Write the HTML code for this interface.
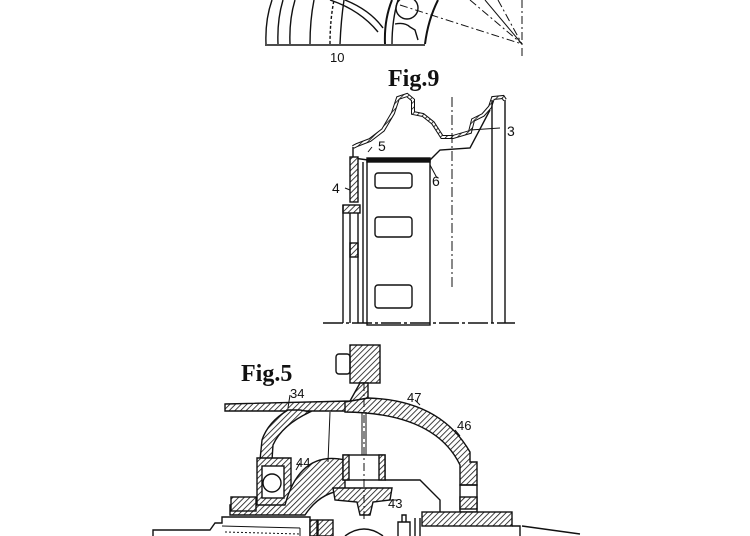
<!DOCTYPE html>
<html><head><meta charset="utf-8"><style>
html,body{margin:0;padding:0;background:#fff}
svg{display:block}
text{font-family:"Liberation Sans",sans-serif;fill:#111}
.f{font-family:"Liberation Serif",serif;font-weight:bold}
</style></head><body>
<svg width="750" height="536" viewBox="0 0 750 536" xmlns="http://www.w3.org/2000/svg">
<defs>
<pattern id="h" width="4" height="4" patternUnits="userSpaceOnUse" patternTransform="rotate(45)">
<rect width="4" height="4" fill="#fff"/><line x1="0" y1="0" x2="0" y2="4" stroke="#111" stroke-width="1.6"/></pattern>
</defs>
<g fill="none" stroke="#111" stroke-width="1.4">
<path d="M265 45 L425 45"/>
<path d="M266 44 Q265 20 272 0"/><path d="M278 44 Q277 20 283 0"/><path d="M290 44 Q289 20 295 0"/>
<path d="M310 44 Q310 20 314 0"/><path d="M330 44 Q330 20 334 0" stroke-dasharray="3 2"/><path d="M340 44 Q341 20 344 0"/>
<path d="M330 0 Q360 10 378 32"/><path d="M345 0 Q370 10 383 28"/>
<path d="M385 44 Q384 20 392 0" stroke-width="2"/><path d="M392 44 Q392 20 398 0"/>
<path d="M425 44 Q428 20 438 0" stroke-width="2"/>
<circle cx="407" cy="8" r="11"/>
<path d="M395 24 Q405 22 410 27 L415 30 L418 40"/>
<g stroke-dasharray="8 3 2 3" stroke-width="1">
<path d="M400 5 L522 44"/><path d="M470 0 L522 44"/><path d="M498 0 L522 44"/><path d="M522 0 L522 56"/>
</g>
<path d="M485 0 L522 44" stroke-width="1"/>
<path d="M353 147 L357 145 L370 140 L383 130 L393 113 L398 98 L407 95 L413 100 L413 113 L423 115 L433 123 L442 137 L453 137 L470 132 L473 120 L483 115 L490 107 L493 98 L503 97 L505 100" stroke-width="4" stroke="#111"/>
<path d="M353 147 L357 145 L370 140 L383 130 L393 113 L398 98 L407 95 L413 100 L413 113 L423 115 L433 123 L442 137 L453 137 L470 132 L473 120 L483 115 L490 107 L493 98 L503 97 L505 100" stroke-width="2" stroke="url(#h)"/>
<path d="M353 147 L353 158 L368 160 L430 160 L440 150 L470 148 L490 110"/>
<rect x="350" y="157" width="8" height="45" fill="url(#h)"/>
<rect x="343" y="205" width="17" height="8" fill="url(#h)"/>
<rect x="350" y="243" width="8" height="14" fill="url(#h)"/>
<path d="M343 205 L343 323 M350 213 L350 323 M358 213 L358 323 M363 162 L363 323"/>
<rect x="367" y="160" width="63" height="165"/>
<rect x="367" y="158" width="63" height="4" fill="#111"/>
<rect x="375" y="173" width="37" height="15" rx="3"/>
<rect x="375" y="217" width="37" height="20" rx="3"/>
<rect x="375" y="285" width="37" height="23" rx="3"/>
<path d="M492 100 L492 323 M505 100 L505 323"/>
<path d="M452 97 L452 290" stroke-width="1" stroke-dasharray="10 3 2 3"/>
<path d="M323 323 L515 323" stroke-dasharray="20 3 3 3"/>
<path d="M368 152 L372 147 M430 165 L437 178 M470 130 L500 128 M345 188 L350 190" stroke-width="1"/>
<rect x="350" y="345" width="30" height="38" fill="url(#h)"/>
<rect x="336" y="354" width="14" height="20" rx="3"/>
<path d="M225 404 L350 401 L360 383 L368 383 L368 398 L345 411 L225 411 Z" fill="url(#h)"/>
<path d="M345 402 L368 398 Q440 400 470 452 L470 462 L477 462 L477 485 L460 485 L460 465 Q435 413 345 412 Z" fill="url(#h)"/>
<path d="M300 410 L288 410 Q268 422 262 440 L260 460 L272 460 L273 445 Q282 425 310 412 Z" fill="url(#h)"/>
<path d="M257 458 L291 458 L291 506 L257 506 Z" fill="url(#h)"/>
<rect x="262" y="466" width="22" height="32" fill="#fff"/>
<circle cx="272" cy="483" r="9"/>
<rect x="460" y="485" width="17" height="27"/>
<rect x="460" y="497" width="17" height="12" fill="url(#h)"/>
<path d="M285 505 Q300 450 345 460 L345 490 Q320 492 305 515 L230 515 L230 505 Z" fill="url(#h)"/>
<rect x="231" y="497" width="25" height="14" fill="url(#h)"/>
<rect x="343" y="455" width="42" height="25"/>
<rect x="343" y="455" width="6" height="25" fill="url(#h)"/><rect x="379" y="455" width="6" height="25" fill="url(#h)"/>
<path d="M333 488 L392 488 L390 500 L373 502 L370 515 L360 515 L357 502 L335 500 Z" fill="url(#h)"/>
<path d="M364 383 L364 520" stroke-width="1" stroke-dasharray="8 3 2 3"/>
<path d="M330 412 L328 462 M362 412 L362 455 M366 412 L366 455" stroke-width="1"/>
<path d="M385 480 L420 480 L440 500 L440 520"/>
<rect x="422" y="512" width="90" height="14" fill="url(#h)"/>
<path d="M153 536 L153 530 L210 530 L215 523 L222 523 L222 517 L310 517 L310 536"/>
<path d="M222 526 L300 528 M300 528 L300 536" stroke-width="1"/>
<path d="M225 532 L300 534" stroke-dasharray="2 2" stroke-width="1"/>
<rect x="310" y="520" width="7" height="16" fill="url(#h)"/>
<rect x="318" y="520" width="15" height="16" fill="url(#h)"/>
<path d="M345 536 Q364 522 383 536"/>
<path d="M398 536 L398 522 L410 522 L410 536 M402 522 L402 515 L406 515 L406 522"/>
<path d="M415 518 L415 536 M420 518 L420 536"/>
<path d="M512 526 L520 526 L520 536 M522 526 L580 534"/>
<path d="M290 395 L288 408 M415 400 L420 405 M455 430 L460 436 M300 463 L296 470 M398 500 L390 500" stroke-width="1"/>
</g>
<text x="330" y="62" font-size="13">10</text>
<text x="388" y="86" font-size="24" class="f">Fig.9</text>
<text x="378" y="151" font-size="14">5</text>
<text x="432" y="186" font-size="14">6</text>
<text x="332" y="193" font-size="14">4</text>
<text x="507" y="136" font-size="14">3</text>
<text x="241" y="381" font-size="24" class="f">Fig.5</text>
<text x="290" y="398" font-size="13">34</text>
<text x="407" y="402" font-size="13">47</text>
<text x="457" y="430" font-size="13">46</text>
<text x="296" y="467" font-size="13">44</text>
<text x="388" y="508" font-size="13">43</text>
</svg>
</body></html>
